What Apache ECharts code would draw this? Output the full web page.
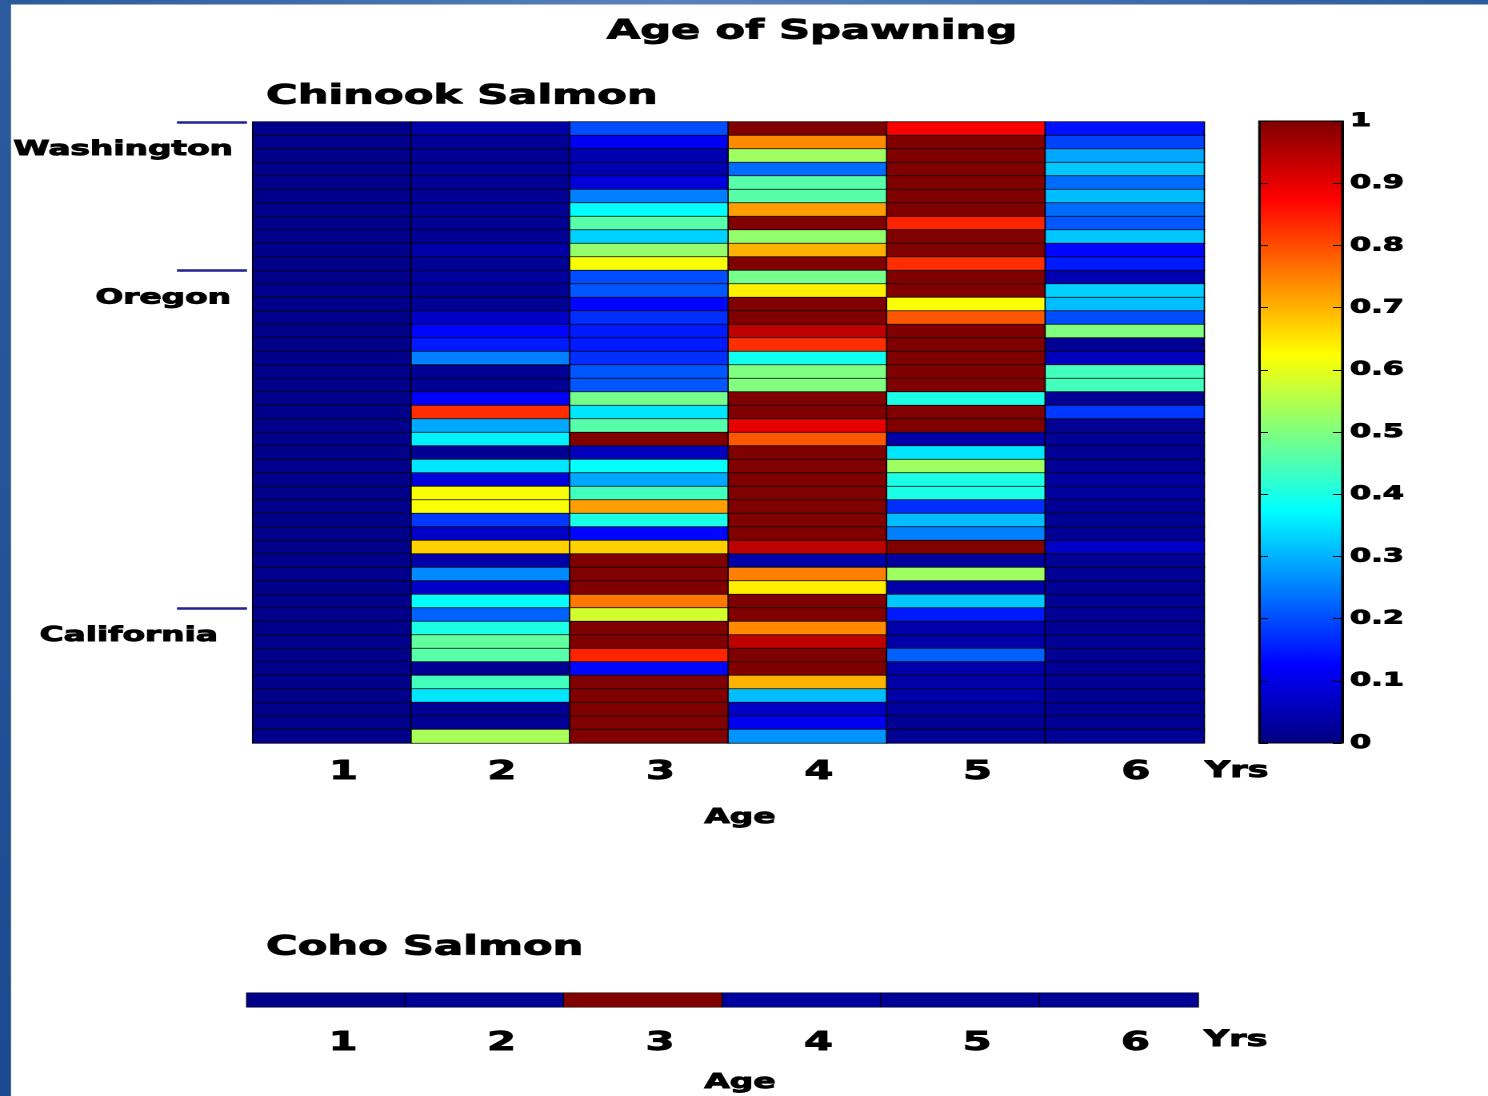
<!DOCTYPE html>
<html>
<head>
<meta charset="utf-8">
<title>Age of Spawning</title>
<script src="https://cdn.jsdelivr.net/npm/echarts@6/dist/echarts.min.js"></script>
<style>
  html, body { margin: 0; padding: 0; background: #ffffff; overflow: hidden; }
  /* the figure is laid out on a narrower canvas and widened, giving the broad lettering of the slide */
  #chart { width: 930px; height: 1096px; transform: scaleX(1.6); transform-origin: 0 0; }
</style>
</head>
<body>
<div id="chart"></div>
<script>
// ---- data -------------------------------------------------------------
// Age classes (years) on the horizontal axis
const ages = ['1', '2', '3', '4', '5', '6'];

// Chinook salmon: relative spawning share per age, one value per population
// (populations ordered north to south, Washington -> Oregon -> California)
const age1 = [0.01, 0.01, 0.01, 0.01, 0.01, 0.01, 0.01, 0.01, 0.01, 0.01,
              0.01, 0.01, 0.01, 0.01, 0.01, 0.01, 0.01, 0.01, 0.01, 0.01,
              0.01, 0.01, 0.01, 0.01, 0.01, 0.01, 0.01, 0.01, 0.01, 0.01,
              0.01, 0.01, 0.01, 0.01, 0.01, 0.01, 0.01, 0.01, 0.01, 0.01,
              0.01, 0.01, 0.01, 0.01, 0.01, 0.01];
const age2 = [0.04, 0.02, 0.02, 0.02, 0.02, 0.02, 0.02, 0.02, 0.02, 0.04,
              0.02, 0.03, 0.02, 0.02, 0.07, 0.13, 0.15, 0.25, 0.02, 0.02,
              0.12, 0.83, 0.29, 0.36, 0.02, 0.35, 0.09, 0.62, 0.62, 0.18,
              0.07, 0.67, 0.04, 0.26, 0.07, 0.38, 0.22, 0.40, 0.47, 0.46,
              0.02, 0.44, 0.35, 0.02, 0.02, 0.54];
const age3 = [0.20, 0.11, 0.05, 0.05, 0.09, 0.25, 0.375, 0.46, 0.33, 0.52,
              0.62, 0.20, 0.21, 0.13, 0.17, 0.15, 0.15, 0.17, 0.21, 0.21,
              0.49, 0.35, 0.46, 1.00, 0.06, 0.38, 0.29, 0.44, 0.72, 0.40,
              0.13, 0.67, 1.00, 1.00, 1.00, 0.76, 0.58, 1.00, 1.00, 0.84,
              0.13, 1.00, 1.00, 1.00, 1.00, 1.00];
const age4 = [1.00, 0.74, 0.53, 0.23, 0.46, 0.46, 0.72, 1.00, 0.52, 0.70,
              1.00, 0.49, 0.64, 1.00, 1.00, 0.94, 0.83, 0.39, 0.50, 0.50,
              1.00, 1.00, 0.90, 0.79, 1.00, 1.00, 1.00, 1.00, 1.00, 1.00,
              1.00, 0.94, 0.04, 0.75, 0.64, 1.00, 1.00, 0.74, 0.94, 1.00,
              1.00, 0.70, 0.31, 0.07, 0.11, 0.27];
const age5 = [0.88, 1.00, 1.00, 1.00, 1.00, 1.00, 1.00, 0.84, 1.00, 1.00,
              0.83, 1.00, 1.00, 0.62, 0.79, 1.00, 1.00, 1.00, 1.00, 1.00,
              0.40, 1.00, 1.00, 0.04, 0.35, 0.53, 0.40, 0.40, 0.17, 0.31,
              0.25, 1.00, 0.03, 0.53, 0.04, 0.32, 0.15, 0.04, 0.04, 0.22,
              0.04, 0.04, 0.04, 0.03, 0.02, 0.02];
const age6 = [0.14, 0.19, 0.29, 0.32, 0.23, 0.31, 0.23, 0.21, 0.32, 0.13,
              0.15, 0.05, 0.33, 0.31, 0.20, 0.50, 0.02, 0.06, 0.44, 0.44,
              0.02, 0.18, 0.02, 0.02, 0.02, 0.02, 0.03, 0.03, 0.02, 0.02,
              0.02, 0.07, 0.02, 0.02, 0.02, 0.02, 0.02, 0.02, 0.02, 0.02,
              0.02, 0.02, 0.02, 0.02, 0.02, 0.02];

// Coho salmon: a single row, ages 1..6
const cohoByAge = [0.01, 0.02, 1.00, 0.03, 0.02, 0.02];

// State groupings and the first population row of each
const regions = ['Washington', 'Oregon', 'California'];
const regionStartRow = [0, 11, 36];

// MATLAB "jet" colour ramp, evenly spaced stops from 0 to 1
const jetColors = ['#000080', '#0000FF', '#0080FF', '#00FFFF', '#80FF80',
                   '#FFFF00', '#FF8000', '#FF0000', '#800000'];

// ---- layout -------------------------------------------------------------
const STRETCH = 1.6;                       // horizontal widening of the page
const W = 1488 / STRETCH, H = 1096;
const sx = v => v / STRETCH;               // page x -> canvas x
const FONT = 'DejaVu Sans';
const LABEL_ROW_OFFSET = 2.05;             // state name sits a little below its divider

const gridChinook = { left: sx(253), top: 122, width: sx(951), height: 621 };
const gridCoho    = { left: sx(247), top: 993, width: sx(951), height: 14 };
const gridBar     = { left: sx(1259), top: 121, width: sx(83), height: 622 };

// ---- series data --------------------------------------------------------
const chinookColumns = [age1, age2, age3, age4, age5, age6];
const rowIds = age1.map((_, i) => 'P' + (i + 1));
const chinookData = [];
chinookColumns.forEach((col, x) => col.forEach((v, y) => chinookData.push([x, y, v])));
const cohoData = cohoByAge.map((v, x) => [x, 0, v]);

// heavy black lettering
const bold = (size) => ({ fontFamily: FONT, fontWeight: 'bold', fontSize: size, color: '#000',
                          textBorderColor: '#000', textBorderWidth: 0.9 });

const chart = echarts.init(document.getElementById('chart'), null,
  { width: W, height: H, devicePixelRatio: 2, renderer: 'canvas' });

const regionRich = {
  r0: Object.assign(bold(20.5), { padding: [0, 0, 0, 0] }),
  r1: Object.assign(bold(20.5), { padding: [0, sx(2), 0, 0] }),
  r2: Object.assign(bold(20.5), { padding: [0, sx(15), 0, 0] })
};

// colour-bar edge ticks: an unlabeled scale laid along one edge, ticks pointing into the bar
const barEdgeScale = (position) => ({
  gridIndex: 2, type: 'value', min: 0, max: 1, interval: 0.1, z: 10,
  position: position, offset: -gridBar.width,
  axisLine: { show: true, onZero: false, lineStyle: { color: '#000', width: 1 } },
  axisTick: { show: true, inside: false, length: sx(9), lineStyle: { color: '#000', width: 1 } },
  splitLine: { show: false }, axisLabel: { show: false }
});

const option = {
  backgroundColor: '#ffffff',
  animation: false,
  title: [
    { text: 'Age of Spawning', left: sx(812), top: 18, textAlign: 'center', padding: 0,
      textStyle: bold(27) },
    { text: 'Chinook Salmon', left: sx(266), top: 83, padding: 0, textStyle: bold(27) },
    { text: 'Coho Salmon', left: sx(266), top: 934, padding: 0, textStyle: bold(27) }
  ],
  grid: [
    Object.assign({ show: true, borderColor: '#a0a0a0', borderWidth: 1, containLabel: false }, gridChinook),
    Object.assign({ show: true, borderColor: '#a0a0a0', borderWidth: 1, containLabel: false }, gridCoho),
    Object.assign({ show: true, borderColor: '#000', borderWidth: 1, z: 10, containLabel: false }, gridBar)
  ],
  xAxis: [
    { gridIndex: 0, type: 'category', data: ages, position: 'bottom',
      axisLine: { show: false }, axisTick: { show: false }, splitLine: { show: false },
      axisLabel: Object.assign(bold(26), { margin: 16, padding: [0, 0, 0, 14] }),
      name: 'Age', nameLocation: 'middle', nameGap: 64,
      nameTextStyle: Object.assign(bold(20.5), { padding: [0, 0, 0, sx(23)] }) },
    { gridIndex: 1, type: 'category', data: ages, position: 'bottom',
      axisLine: { show: false }, axisTick: { show: false }, splitLine: { show: false },
      axisLabel: Object.assign(bold(26), { margin: 23, padding: [0, 0, 0, 21] }),
      name: 'Age', nameLocation: 'middle', nameGap: 65,
      nameTextStyle: Object.assign(bold(20.5), { padding: [0, 0, 0, sx(35)] }) },
    { gridIndex: 2, type: 'value', min: 0, max: 1, show: false }
  ],
  yAxis: [
    // population rows of the Chinook map
    { gridIndex: 0, type: 'category', data: rowIds, inverse: true, show: false },
    // state dividers and names along the same rows
    { gridIndex: 0, type: 'value', min: 0, max: rowIds.length, inverse: true,
      position: 'left', offset: sx(6),
      axisLine: { show: false }, splitLine: { show: false },
      axisTick: { show: true, customValues: regionStartRow, length: sx(70),
                  lineStyle: { color: '#23238f', width: 2.5 } },
      axisLabel: { show: true, customValues: regionStartRow.map(r => r + LABEL_ROW_OFFSET),
                   margin: sx(14), align: 'right',
                   formatter: (v) => {
                     const i = regionStartRow.findIndex(r => Math.abs(r + LABEL_ROW_OFFSET - v) < 1e-6);
                     return i < 0 ? '' : '{r' + i + '|' + regions[i] + '}';
                   },
                   rich: regionRich } },
    // Coho single row
    { gridIndex: 1, type: 'category', data: ['Coho'], show: false },
    // colour bar scale labels on the right
    { gridIndex: 2, type: 'value', min: 0, max: 1, interval: 0.1, position: 'right', z: 10,
      axisLine: { show: true, onZero: false, lineStyle: { color: '#000', width: 1 } },
      axisTick: { show: false },
      splitLine: { show: false },
      axisLabel: Object.assign(bold(19), { margin: sx(8) }) },
    // ticks along the left and right edges of the colour bar
    barEdgeScale('right'),
    barEdgeScale('left')
  ],
  visualMap: {
    type: 'continuous', min: 0, max: 1, dimension: 2, seriesIndex: [0, 1],
    show: false, inRange: { color: jetColors }
  },
  series: [
    { name: 'Chinook Salmon', type: 'heatmap', xAxisIndex: 0, yAxisIndex: 0,
      data: chinookData, itemStyle: { borderColor: '#000', borderWidth: 0.8 },
      emphasis: { disabled: true } },
    { name: 'Coho Salmon', type: 'heatmap', xAxisIndex: 1, yAxisIndex: 2,
      data: cohoData, itemStyle: { borderColor: '#000', borderWidth: 0.6 },
      emphasis: { disabled: true } }
  ],
  graphic: [
    // slide frame: blue band along the left and top edges
    { id: 'frameLeft', type: 'rect', left: 0, top: 0, z: 100, silent: true,
      shape: { width: sx(11), height: H },
      style: { fill: new echarts.graphic.LinearGradient(0, 0, 0, 1, [
        { offset: 0, color: '#2d5c9e' }, { offset: 1, color: '#1b4a8e' }]) } },
    { id: 'frameTop', type: 'rect', left: 0, top: 0, z: 100, silent: true,
      shape: { width: W, height: 4.5 },
      style: { fill: new echarts.graphic.LinearGradient(0, 0, 1, 0, [
        { offset: 0, color: '#2c5a9c' }, { offset: 0.45, color: '#5b81bc' },
        { offset: 1, color: '#2d5b9d' }]) } },
    // unit next to the age ticks
    { id: 'yrsChinook', type: 'text', left: gridChinook.left + gridChinook.width, top: 760, silent: true,
      style: { text: 'Yrs', fill: '#000', stroke: '#000', lineWidth: 0.9,
               font: 'bold 22px "' + FONT + '"' } },
    { id: 'yrsCoho', type: 'text', left: gridCoho.left + gridCoho.width + sx(5), top: 1029, silent: true,
      style: { text: 'Yrs', fill: '#000', stroke: '#000', lineWidth: 0.9,
               font: 'bold 22px "' + FONT + '"' } }
  ]
};

chart.setOption(option);

// colour bar: the jet ramp filled between the scale's 0 and 1 positions
const barLow = chart.convertToPixel({ xAxisIndex: 2, yAxisIndex: 3 }, [0, 0]);
const barHigh = chart.convertToPixel({ xAxisIndex: 2, yAxisIndex: 3 }, [1, 1]);
const rampStops = jetColors.map((c, i) => ({ offset: 1 - i / (jetColors.length - 1), color: c })).reverse();
chart.setOption({
  graphic: [{
    id: 'colorbar', type: 'rect', z: 1, silent: true,
    shape: { x: barLow[0], y: barHigh[1], width: barHigh[0] - barLow[0], height: barLow[1] - barHigh[1] },
    style: { fill: new echarts.graphic.LinearGradient(0, 0, 0, 1, rampStops) }
  }]
});
</script>
</body>
</html>
